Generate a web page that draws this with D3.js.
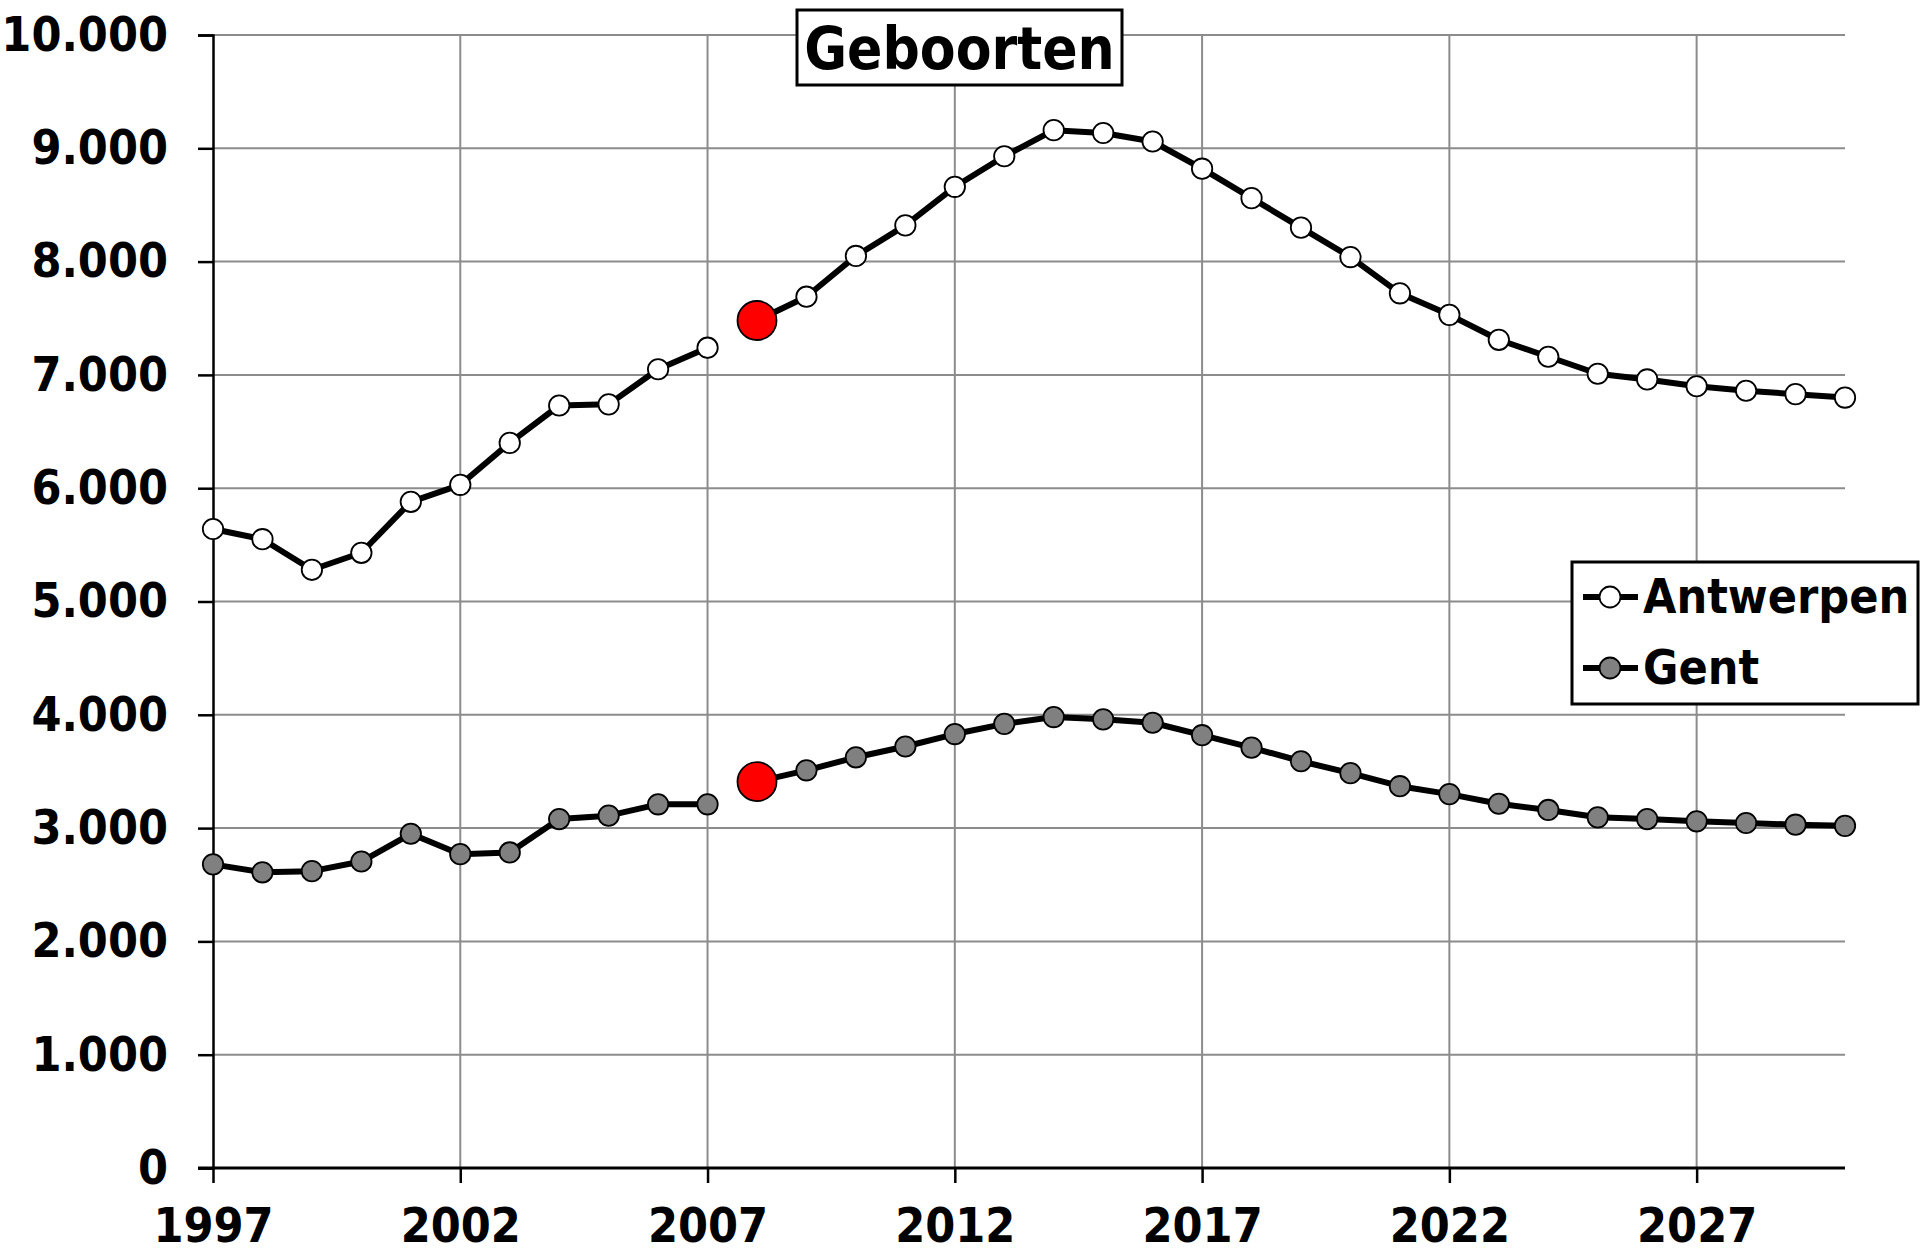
<!DOCTYPE html>
<html>
<head>
<meta charset="utf-8">
<script src="https://cdn.jsdelivr.net/npm/d3@7"></script>
<style>
  html, body { margin: 0; padding: 0; background: #fff; }
  svg { display: block; }
  text { font-family: "DejaVu Sans Condensed", "DejaVu Sans", sans-serif; font-weight: bold; }
</style>
</head>
<body>
<div class="chart"></div>
<script>
document.addEventListener('DOMContentLoaded', function() {
  // Data
  const years = d3.range(1997, 2031);
  const antwerpen = [5640, 5550, 5280, 5430, 5880, 6030, 6400, 6730, 6740, 7050, 7240,
                     7480, 7690, 8050, 8320, 8660, 8930, 9160, 9135, 9060, 8820, 8560,
                     8300, 8040, 7720, 7530, 7310, 7160, 7010, 6960, 6900, 6860, 6830, 6800];
  const gent = [2680, 2610, 2620, 2705, 2950, 2770, 2785, 3080, 3110, 3210, 3210,
                3410, 3510, 3625, 3720, 3830, 3920, 3980, 3960, 3930, 3820, 3710,
                3590, 3485, 3370, 3300, 3215, 3160, 3095, 3080, 3060, 3045, 3030, 3020];
  const seriesNames = ['Antwerpen', 'Gent'];
  const seriesFills = ['#ffffff', '#808080'];
  const breakYear = 2008;   // line is broken here, marker drawn in red
  const xTicks = [1997, 2002, 2007, 2012, 2017, 2022, 2027];
  const yTicks = [0, 1000, 2000, 3000, 4000, 5000, 6000, 7000, 8000, 9000, 10000];
  const title = 'Geboorten';

  const width = 1920;
  const height = 1254;
  const left = 213, right = 1845, top = 35, bottom = 1168;

  const svg = d3.select('.chart')
      .append('svg')
      .attr('width', width)
      .attr('height', height);

  const x = d3.scaleLinear().domain([1997, 2030]).range([left, right]);
  const y = d3.scaleLinear().domain([0, 10000]).range([bottom, top]);

  const nl = d3.formatLocale({decimal: ',', thousands: '.', grouping: [3], currency: ['', '']});
  const fmt = nl.format(',d');

  // Grid
  svg.append('g')
      .selectAll('line.h')
      .data(yTicks.filter(d => d > 0))
      .enter().append('line')
      .attr('x1', left).attr('x2', right)
      .attr('y1', d => y(d)).attr('y2', d => y(d))
      .attr('stroke', '#8c8c8c')
      .attr('stroke-width', 2);
  svg.append('g')
      .selectAll('line.v')
      .data(xTicks.filter(d => d > 1997))
      .enter().append('line')
      .attr('x1', d => x(d)).attr('x2', d => x(d))
      .attr('y1', top).attr('y2', bottom)
      .attr('stroke', '#8c8c8c')
      .attr('stroke-width', 2);

  // Axes
  const yAxis = svg.append('g')
      .attr('transform', `translate(${left},0)`)
      .call(d3.axisLeft(y).tickValues(yTicks).tickSize(15).tickPadding(30).tickFormat(fmt));
  yAxis.select('.domain').attr('stroke', '#000').attr('stroke-width', 2.5);
  yAxis.selectAll('.tick line').attr('stroke', '#000').attr('stroke-width', 2.5);
  yAxis.selectAll('.tick text')
      .attr('fill', '#000')
      .style('font-size', '48px')
      .style('font-family', '"DejaVu Sans Condensed", "DejaVu Sans", sans-serif');

  const xAxis = svg.append('g')
      .attr('transform', `translate(0,${bottom})`)
      .call(d3.axisBottom(x).tickValues(xTicks).tickSize(15).tickPadding(25).tickFormat(d3.format('d')));
  xAxis.select('.domain').attr('stroke', '#000').attr('stroke-width', 3)
      .attr('d', `M${left - 15},0H${right}`);
  xAxis.selectAll('.tick line').attr('stroke', '#000').attr('stroke-width', 2.5);
  xAxis.selectAll('.tick text')
      .attr('fill', '#000')
      .style('font-size', '48px')
      .style('font-family', '"DejaVu Sans Condensed", "DejaVu Sans", sans-serif');

  // Series
  const line = d3.line().x(d => x(d.year)).y(d => y(d.value));
  [antwerpen, gent].forEach((values, s) => {
      const pts = years.map((yr, i) => ({year: yr, value: values[i]}));
      const g = svg.append('g');
      [pts.filter(d => d.year < breakYear), pts.filter(d => d.year >= breakYear)].forEach(seg => {
          g.append('path')
              .attr('d', line(seg))
              .attr('fill', 'none')
              .attr('stroke', '#000')
              .attr('stroke-width', 6)
              .attr('stroke-linejoin', 'round');
      });
      g.selectAll('circle')
          .data(pts)
          .enter().append('circle')
          .attr('cx', d => x(d.year))
          .attr('cy', d => y(d.value))
          .attr('r', d => d.year === breakYear ? 19.5 : 10.2)
          .attr('fill', d => d.year === breakYear ? '#ff0000' : seriesFills[s])
          .attr('stroke', '#000')
          .attr('stroke-width', 1.8);
  });

  // Title
  svg.append('rect')
      .attr('x', 797).attr('y', 10)
      .attr('width', 325).attr('height', 75)
      .attr('fill', '#fff')
      .attr('stroke', '#000')
      .attr('stroke-width', 3);
  svg.append('text')
      .attr('x', 959.5)
      .attr('y', 69)
      .attr('text-anchor', 'middle')
      .attr('font-size', '58px')
      .text(title);

  // Legend
  const legend = svg.append('g');
  legend.append('rect')
      .attr('x', 1572).attr('y', 562)
      .attr('width', 346).attr('height', 142)
      .attr('fill', '#fff')
      .attr('stroke', '#000')
      .attr('stroke-width', 3);
  seriesNames.forEach((name, i) => {
      const ly = 597 + i * 71;
      legend.append('line')
          .attr('x1', 1583).attr('x2', 1638)
          .attr('y1', ly).attr('y2', ly)
          .attr('stroke', '#000')
          .attr('stroke-width', 6);
      legend.append('circle')
          .attr('cx', 1610).attr('cy', ly)
          .attr('r', 10.5)
          .attr('fill', seriesFills[i])
          .attr('stroke', '#000')
          .attr('stroke-width', 1.8);
      legend.append('text')
          .attr('x', 1643)
          .attr('y', ly + 16)
          .attr('font-size', '48px')
          .text(name);
  });
});
</script>
</body>
</html>
